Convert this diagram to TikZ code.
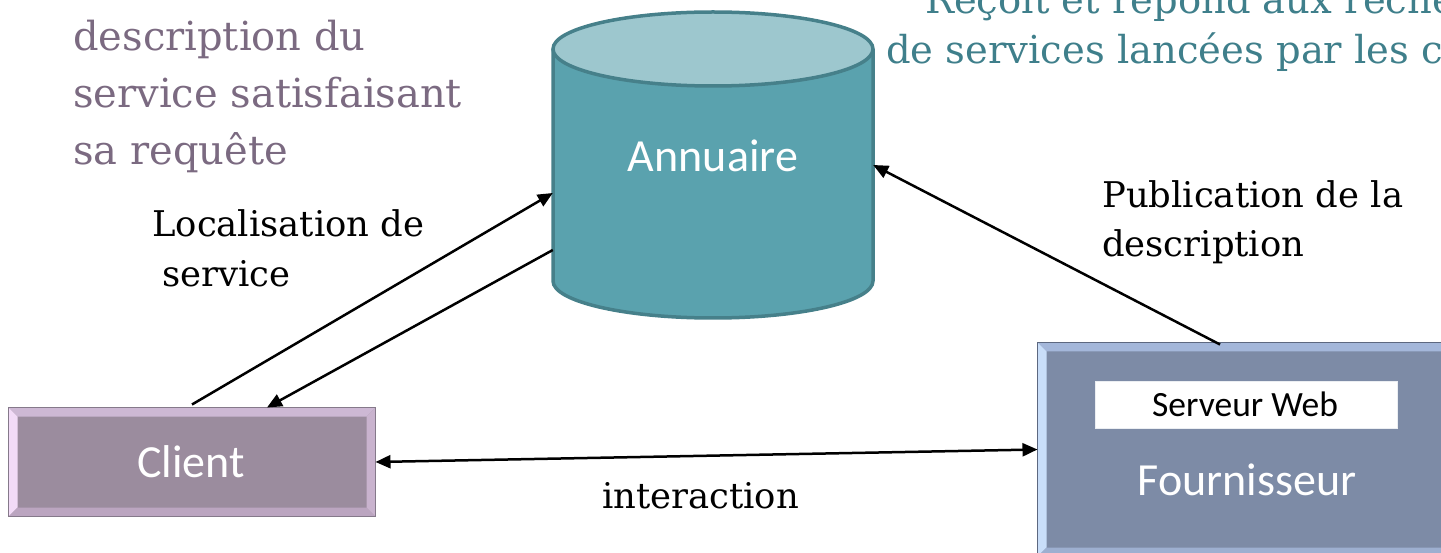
\documentclass[tikz,border=0pt]{standalone}
\usepackage{fontspec}
\setmainfont{DejaVu Serif}
\newfontfamily\calibri{Carlito}
\usetikzlibrary{arrows.meta,calc}

% colours
\definecolor{cylbody}{HTML}{5AA2AE}
\definecolor{cyltop}{HTML}{9DC7CE}
\definecolor{cyledge}{HTML}{46808A}
\definecolor{cliface}{HTML}{9B8C9E}
\definecolor{clitop}{HTML}{CDB8D4}
\definecolor{clileft}{HTML}{F2DBF7}
\definecolor{clibot}{HTML}{BBA5C0}
\definecolor{cliright}{HTML}{C9B3CE}
\definecolor{cliedge}{HTML}{85798A}
\definecolor{fouface}{HTML}{7D8BA6}
\definecolor{foutop}{HTML}{A4B7DA}
\definecolor{fouleft}{HTML}{C9DEF9}
\definecolor{foubot}{HTML}{9DAFD0}
\definecolor{fouright}{HTML}{9AADCE}
\definecolor{fouedge}{HTML}{5D6880}
\definecolor{notepurple}{HTML}{7B6A81}
\definecolor{noteteal}{HTML}{3F7F8B}

% bevelled frame around a rectangular node: name, inset, top, left, bottom, right
\newcommand\bevelbox[6]{%
  \fill[#3] let \p1=(#1.north west), \p2=(#1.south east) in
    (\x1,\y1) -- (\x2,\y1) -- (\x2-#2,\y1-#2) -- (\x1+#2,\y1-#2) -- cycle;
  \fill[#4] let \p1=(#1.north west), \p2=(#1.south east) in
    (\x1,\y1) -- (\x1+#2,\y1-#2) -- (\x1+#2,\y2+#2) -- (\x1,\y2) -- cycle;
  \fill[#5] let \p1=(#1.north west), \p2=(#1.south east) in
    (\x1,\y2) -- (\x1+#2,\y2+#2) -- (\x2-#2,\y2+#2) -- (\x2,\y2) -- cycle;
  \fill[#6] let \p1=(#1.north west), \p2=(#1.south east) in
    (\x2,\y1) -- (\x2-#2,\y1-#2) -- (\x2-#2,\y2+#2) -- (\x2,\y2) -- cycle;
}

\tikzset{
  tip/.style={Triangle[length=15pt,width=13pt]},
  conn/.style={line width=2.5pt, black, -{Triangle[length=15pt,width=13pt]}},
  dconn/.style={line width=2.5pt, black, {Triangle[length=15pt,width=13pt]}-{Triangle[length=15pt,width=13pt]}},
  lbl/.style={anchor=base west, inner sep=0pt, font=\fontsize{35.4}{42}\selectfont},
  purplenote/.style={anchor=base west, inner sep=0pt, text=notepurple, font=\fontsize{40}{48}\selectfont},
  tealnote/.style={anchor=base west, inner sep=0pt, text=noteteal, font=\fontsize{38.5}{46}\selectfont},
  boxlbl/.style={anchor=base, inner sep=0pt, text=white, font=\calibri\fontsize{46}{52}\selectfont},
  framebox/.style={rectangle, inner sep=0pt, line width=1pt},
}

\begin{document}
\begin{tikzpicture}[x=1pt,y=-1pt]
  \useasboundingbox (0,0) rectangle (1441,553);
  \clip (0,0) rectangle (1441,553);

  % notes at the top
  \node[purplenote] (n1) at (73,51)  {description du};
  \node[purplenote] (n2) at (73,108) {service satisfaisant};
  \node[purplenote] (n3) at (73,165) {sa requête};
  \node[tealnote] (t1) at (925,14) {Reçoit et répond aux recherches};
  \node[tealnote] (t2) at (886,64) {de services lancées par les clients};

  % directory cylinder
  \path[fill=cylbody, draw=cyledge, line width=3.5pt]
    (553,49) -- (553,281) arc[start angle=180, end angle=360, x radius=160pt, y radius=37pt] -- (873,49);
  \draw[fill=cyltop, draw=cyledge, line width=3.5pt] (713,49) ellipse[x radius=160pt, y radius=37pt];
  \node[rectangle, minimum width=320pt, minimum height=306pt, inner sep=0pt] (annuaire) at (713,165) {};
  \node[boxlbl] (annlbl) at (713,172) {Annuaire};

  % client
  \node[framebox, fill=cliface, minimum width=366pt, minimum height=108pt] (client) at (192,462) {};
  \bevelbox{client}{9pt}{clitop}{clileft}{clibot}{cliright}
  \draw[cliedge, line width=1pt] (client.north west) rectangle (client.south east);
  \node[boxlbl] (clilbl) at (191,477) {Client};

  % provider
  \node[framebox, fill=fouface, minimum width=422pt, minimum height=213pt] (fourn) at (1249,449.5) {};
  \bevelbox{fourn}{9pt}{foutop}{fouleft}{foubot}{fouright}
  \draw[fouedge, line width=1pt] (fourn.north west) rectangle (fourn.south east);
  \node[rectangle, fill=white, draw=white!85!fouface, line width=0.8pt, minimum width=302pt, minimum height=47pt, inner sep=0pt] (web) at (1246,404.5) {};
  \node[anchor=base, inner sep=0pt, font=\calibri\fontsize{35.5}{40}\selectfont] (weblbl) at (1245,417) {Serveur Web};
  \node[boxlbl] (fournlbl) at (1247,495) {Fournisseur};

  % connectors
  \draw[conn] ([yshift=3pt]client.north) -- ([yshift=-28pt]annuaire.west);
  \draw[conn] ([yshift=-85pt]annuaire.west) -- ([xshift=75pt]client.north);
  \draw[conn] ([xshift=-29pt,yshift=-2pt]fourn.north) -- (annuaire.east);
  \draw[dconn] (client.east) -- (fourn.west);

  % connector labels
  \node[lbl] (loc1) at (152,237) {Localisation de};
  \node[lbl] (loc2) at (162,287) {service};
  \node[lbl] (pub1) at (1102,208) {Publication de la};
  \node[lbl] (pub2) at (1102,257) {description};
  \node[lbl] (inter) at (602,508) {interaction};
\end{tikzpicture}
\end{document}
